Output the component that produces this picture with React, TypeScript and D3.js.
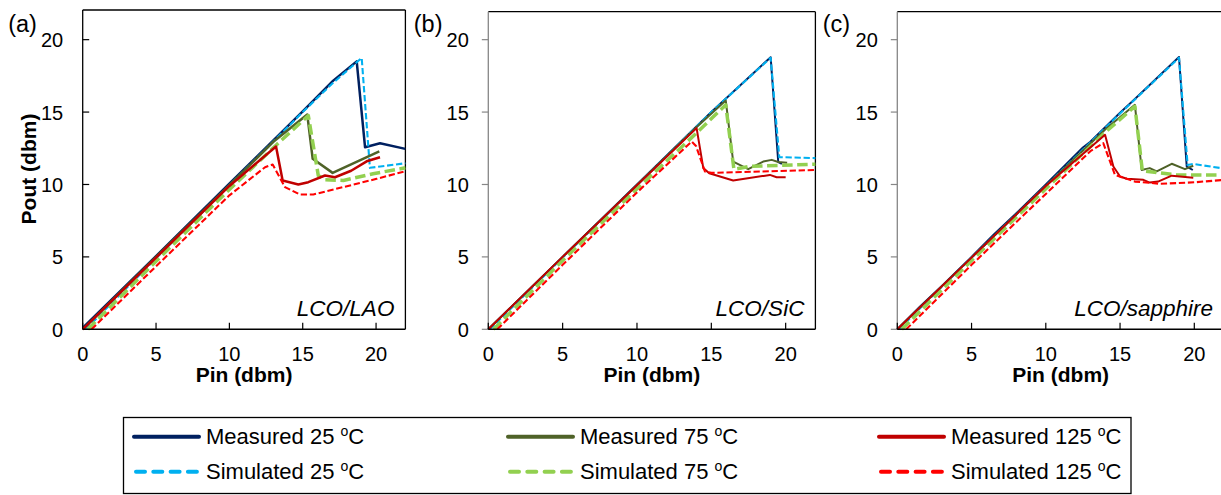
import React from "react";
import * as d3 from "d3";

type Pt = [number, number];

const xTicks = [0, 5, 10, 15, 20];
const yTicks = [0, 5, 10, 15, 20];
const panelLetters = ["(a)", "(b)", "(c)"];
const panelNames = ["LCO/LAO", "LCO/SiC", "LCO/sapphire"];
const seriesLabels = ["Measured 25", "Simulated 25", "Measured 75", "Simulated 75", "Measured 125", "Simulated 125"];
const seriesColors = ["#002060", "#00B0F0", "#4F6228", "#92D050", "#C00000", "#FF0000"];
const xTitle = "Pin (dbm)";
const yTitle = "Pout (dbm)";

// Panel (a) LCO/LAO
const aMeas25: Pt[] = [[0, 0.1], [5, 5.05], [10, 10.05], [15, 15.05], [17.08, 17.17], [18.68, 18.5], [19.25, 12.57], [20.27, 12.85], [22, 12.46]];
const aSim25: Pt[] = [[0.2, 0], [5, 4.9], [10, 9.95], [15, 15.0], [17, 16.95], [19.02, 18.74], [19.58, 11.15], [22, 11.47]];
const aMeas75: Pt[] = [[0, 0], [5, 5.0], [10, 9.95], [13, 12.95], [15.31, 14.83], [15.68, 11.77], [17.04, 10.8], [20.22, 12.28]];
const aSim75: Pt[] = [[0.35, 0], [5, 4.7], [10, 9.65], [13.22, 12.75], [15.38, 14.76], [16.06, 10.62], [16.52, 10.32], [17.77, 10.28], [19.8, 10.74], [22, 11.15]];
const aMeas125: Pt[] = [[0, 0], [5, 4.95], [10, 9.9], [13.18, 12.62], [13.63, 10.28], [14.7, 10.0], [15.38, 10.16], [16.52, 10.62], [17.2, 10.5], [18.3, 10.95], [19.36, 11.6], [20.27, 11.88]];
const aSim125: Pt[] = [[0.6, 0], [5, 4.35], [10, 9.25], [12.43, 11.19], [12.95, 11.38], [13.79, 9.82], [14.81, 9.31], [15.72, 9.31], [17.77, 9.82], [20.04, 10.39], [22, 10.92]];

// Panel (b) LCO/SiC
const bMeas25: Pt[] = [[0, 0], [5, 5.0], [10, 10.0], [15, 15.0], [18.99, 18.79], [19.5, 11.55], [19.75, 11.42]];
const bSim25: Pt[] = [[0.1, 0], [5, 4.95], [10, 9.95], [15, 15.0], [18.99, 18.75], [19.57, 11.89], [22, 11.82]];
const bMeas75: Pt[] = [[0, 0], [5, 5.0], [10, 9.97], [14, 13.95], [15.97, 15.8], [16.47, 11.58], [17.48, 11.06], [18.49, 11.58], [19.06, 11.7], [19.5, 11.55], [20.1, 11.5]];
const bSim75: Pt[] = [[0.35, 0], [5, 4.75], [10, 9.7], [14, 13.55], [15.97, 15.5], [16.52, 11.05], [17.6, 11.25], [22, 11.4]];
const bMeas125: Pt[] = [[0, 0], [5, 5.0], [10, 9.95], [14.01, 13.89], [14.46, 11.13], [14.86, 10.78], [16.47, 10.27], [18.94, 10.66], [19.39, 10.5], [20.0, 10.5]];
const bSim125: Pt[] = [[0.6, 0], [5, 4.45], [10, 9.45], [13.68, 12.96], [13.97, 12.66], [14.57, 10.9], [15.0, 10.8], [22, 11.0]];

// Panel (c) LCO/sapphire
const cMeas25: Pt[] = [[0, 0], [1.5, 1.55], [3, 3.0], [5, 5.0], [6.5, 6.55], [8, 8.0], [10, 10.0], [12.5, 12.55], [13, 12.95], [15, 14.95], [16, 15.9], [18.97, 18.8], [19.49, 11.24], [19.9, 11.0]];
const cSim25: Pt[] = [[0.1, 0], [5, 4.95], [10, 9.9], [15, 14.9], [18.97, 18.75], [19.55, 11.35], [19.93, 11.42], [22, 11.1]];
const cMeas75: Pt[] = [[0, 0], [5, 4.95], [10, 9.9], [14, 13.8], [16.0, 15.5], [16.46, 11.0], [17.0, 11.13], [17.47, 10.9], [18.48, 11.43], [19.37, 11.06], [19.93, 11.29]];
const cSim75: Pt[] = [[0.3, 0], [5, 4.75], [10, 9.7], [14, 13.6], [16.0, 15.4], [16.5, 10.95], [18.8, 10.66], [22, 10.65]];
const cMeas125: Pt[] = [[0, 0], [5, 4.95], [10, 9.9], [13.99, 13.43], [14.55, 11.24], [15.0, 10.55], [15.45, 10.4], [16.57, 10.32], [17.0, 10.13], [17.56, 10.2], [18.48, 10.61], [19.93, 10.47]];
const cSim125: Pt[] = [[0.6, 0], [5, 4.45], [10, 9.35], [13.0, 12.3], [13.87, 12.85], [14.66, 10.66], [16, 10.2], [17.7, 10.05], [20, 10.15], [22, 10.32]];

const panelSeries: Pt[][][] = [
  [aMeas25, aSim25, aMeas75, aSim75, aMeas125, aSim125],
  [bMeas25, bSim25, bMeas75, bSim75, bMeas125, bSim125],
  [cMeas25, cSim25, cMeas75, cSim75, cMeas125, cSim125],
];

const FONT = "'Liberation Sans', Arial, sans-serif";

const panels = [
  { x0: 82.7, x1: 405.4, top: 10, leftColor: "#000000", measW: 2.5, yTickDir: 1 },
  { x0: 488.3, x1: 815.4, top: 11.7, leftColor: "#868686", measW: 2, yTickDir: -1 },
  { x0: 897.3, x1: 1224, top: 11.7, leftColor: "#868686", measW: 2, yTickDir: -1 },
];
const yBottom = 329.3;
const yAt22 = 10.7;

function strokeFor(i: number, measW: number) {
  const measured = i % 2 === 0;
  if (measured) return { w: measW, dash: undefined as string | undefined };
  const w = i === 3 ? 3.5 : 2.1;
  return { w, dash: `${w * 3},${w * 1.3}` };
}

function Panel({ idx }: { idx: number }) {
  const p = panels[idx];
  const x = d3.scaleLinear().domain([0, 22]).range([p.x0, p.x1]);
  const y = d3.scaleLinear().domain([0, 22]).range([yBottom, yAt22]);
  const line = d3.line<Pt>().x((d) => x(d[0])).y((d) => y(d[1]));
  const series = panelSeries[idx];
  return (
    <g>
      <line x1={p.x0} x2={p.x1} y1={p.top} y2={p.top} stroke="#000" strokeWidth={1.3} />
      <line x1={p.x1} x2={p.x1} y1={p.top} y2={yBottom} stroke="#000" strokeWidth={1.3} />
      <line x1={p.x0} x2={p.x0} y1={p.top} y2={yBottom} stroke={p.leftColor} strokeWidth={1.3} />
      {yTicks.map((t) => (
        <g key={"y" + t}>
          <line x1={p.x0} x2={p.x0 + 6.5 * p.yTickDir} y1={y(t)} y2={y(t)} stroke={p.leftColor} strokeWidth={1.2} />
          <text x={p.x0 - 19.5} y={y(t) + 7.5} textAnchor="end" fontSize={20} fontFamily={FONT} fill="#000">
            {t}
          </text>
        </g>
      ))}
      {series.map((s, i) => {
        const st = strokeFor(i, p.measW);
        return (
          <path
            key={i}
            d={line(s) || ""}
            fill="none"
            stroke={seriesColors[i]}
            strokeWidth={st.w}
            strokeDasharray={st.dash}
            strokeLinejoin="round"
          />
        );
      })}
      <line x1={p.x0} x2={p.x1} y1={yBottom} y2={yBottom} stroke="#000" strokeWidth={1.4} />
      {xTicks.map((t) => (
        <g key={"x" + t}>
          <line x1={x(t)} x2={x(t)} y1={yBottom} y2={yBottom - 6.5} stroke="#000" strokeWidth={1.2} />
          <text x={x(t)} y={361} textAnchor="middle" fontSize={20} fontFamily={FONT} fill="#000">
            {t}
          </text>
        </g>
      ))}
      <text x={(p.x0 + p.x1) / 2} y={382} textAnchor="middle" fontSize={21} fontWeight="bold" fontFamily={FONT} fill="#000">
        {xTitle}
      </text>
      <text x={x(22) - 11} y={316} textAnchor="end" fontSize={22.5} fontStyle="italic" fontFamily={FONT} fill="#000">
        {panelNames[idx]}
      </text>
      <text x={p.x0 - 74.5} y={32} fontSize={23.5} fontFamily={FONT} fill="#000">
        {panelLetters[idx]}
      </text>
    </g>
  );
}

function Legend() {
  const cols = [134, 508, 879];
  const rows = [436.7, 471.7];
  const temps = ["25", "75", "125"];
  return (
    <g>
      <rect x={123.5} y={417.5} width={1007.5} height={76} fill="#fff" stroke="#000" strokeWidth={1.3} />
      {temps.map((t, c) =>
        [0, 1].map((r) => {
          const i = c * 2 + r;
          const lx = cols[c];
          const ly = rows[r];
          const label = seriesLabels[i];
          return (
            <g key={i}>
              <line
                x1={lx + (r === 1 ? 2 : 0)}
                x2={lx + 65 - (r === 1 ? 2 : 0)}
                y1={ly}
                y2={ly}
                stroke={seriesColors[i]}
                strokeWidth={4}
                strokeLinecap="round"
                strokeDasharray={r === 1 ? "9,8.3" : undefined}
              />
              <text x={lx + 72} y={ly + 7.5} fontSize={22} fontFamily={FONT} fill="#000">
                <tspan>{label + " "}</tspan>
                <tspan fontSize={14} dy={-8}>o</tspan>
                <tspan dy={8}>C</tspan>
              </text>
            </g>
          );
        })
      )}
    </g>
  );
}

export default function App() {
  return (
    <svg
      width={1221}
      height={495}
      viewBox="0 0 1221 495"
      style={{ position: "absolute", left: 0, top: 0, background: "#fff" }}
    >
      <rect x={0} y={0} width={1221} height={495} fill="#fff" />
      {panels.map((_, i) => (
        <Panel key={i} idx={i} />
      ))}
      <text
        transform="translate(28,169) rotate(-90)"
        textAnchor="middle"
        dominantBaseline="central"
        fontSize={21}
        fontWeight="bold"
        fontFamily={FONT}
        fill="#000"
      >
        {yTitle}
      </text>
      <Legend />
    </svg>
  );
}
